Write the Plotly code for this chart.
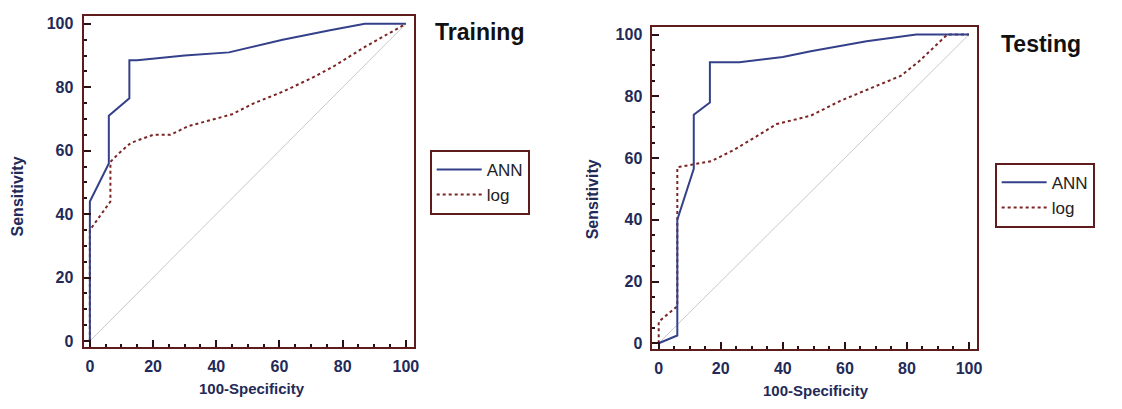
import plotly.graph_objects as go

# ---- data ----
train_ann_x = [0, 0, 6, 6, 12.5, 12.5, 15, 30, 44, 61, 76, 87, 100]
train_ann_y = [0, 44, 56, 71, 76.5, 88.5, 88.5, 90, 91, 95, 98, 100, 100]

train_log_x = [0, 0, 6.5, 6.5, 9, 13, 20, 25.5, 31, 40, 45, 52, 61, 70, 77, 87, 100]
train_log_y = [0, 35, 44, 56.5, 59, 62.5, 65, 65, 67.7, 70, 71.5, 75, 78.6, 82.8, 86.5, 92.7, 100]

test_ann_x = [0, 6, 6, 11.3, 11.3, 16.5, 16.5, 26, 40, 49, 67, 83, 100]
test_ann_y = [0, 2.5, 40, 56.5, 74, 78, 91, 91, 92.7, 94.6, 97.8, 100, 100]

test_log_x = [0, 0, 6, 6, 17, 24, 31, 38, 49, 58.5, 70, 78, 84, 93, 100]
test_log_y = [0, 7, 12, 57, 59, 62.5, 66.7, 71, 73.7, 78.5, 83.3, 86.6, 91.4, 100, 100]

diag = [0, 100]
tick_vals = [0, 20, 40, 60, 80, 100]
panel_titles = ["Training", "Testing"]
series_names = ["ANN", "log"]
axis_x_title = "100-Specificity"
axis_y_title = "Sensitivity"

W, H = 1122, 409
def px(x): return x / W
def py(y): return 1 - y / H

ANN_COLOR = "#34418a"
LOG_COLOR = "#7a2424"
FRAME = "#5e1c1c"
TXT = "#232a58"
FONT = "Arial"

fig = go.Figure()

panels = [
    ("x", "y", train_ann_x, train_ann_y, train_log_x, train_log_y, "legend"),
    ("x2", "y2", test_ann_x, test_ann_y, test_log_x, test_log_y, "legend2"),
]
for xa, ya, ax_, ay_, lx, ly, lg in panels:
    fig.add_trace(go.Scatter(x=diag, y=diag, xaxis=xa, yaxis=ya, mode="lines",
                             line=dict(color="#c9c9c9", width=1), showlegend=False,
                             hoverinfo="skip"))
    fig.add_trace(go.Scatter(x=lx, y=ly, xaxis=xa, yaxis=ya, mode="lines", name=series_names[1],
                             line=dict(color=LOG_COLOR, width=2, dash="dot"), legend=lg,
                             legendrank=2))
    fig.add_trace(go.Scatter(x=ax_, y=ay_, xaxis=xa, yaxis=ya, mode="lines", name=series_names[0],
                             line=dict(color=ANN_COLOR, width=2), legend=lg, legendrank=1))

def axis(domain, standoff):
    return dict(domain=domain, range=[-2, 102.5], tickvals=tick_vals, ticks="inside",
                ticklen=7, tickwidth=2, tickcolor="#2a1010",
                minor=dict(dtick=5, tick0=0, ticks="inside", ticklen=3, tickwidth=2, tickcolor="#2a1010"),
                showline=True, mirror=True, linecolor=FRAME, linewidth=2,
                showgrid=False, zeroline=False, ticklabelstandoff=standoff,
                tickfont=dict(family=FONT, size=16, color=TXT, weight="bold"))

legend_common = dict(xanchor="left", yanchor="top", bordercolor=FRAME, borderwidth=2,
                     bgcolor="white", font=dict(family=FONT, size=17, color="#222"),
                     tracegroupgap=0, itemwidth=45, entrywidth=97)

fig.update_layout(
    width=W, height=H, margin=dict(l=0, r=0, t=0, b=0),
    paper_bgcolor="white", plot_bgcolor="white",
    xaxis=dict(axis([px(84), px(416)], 3), anchor="y"),
    yaxis=dict(axis([py(349), py(15)], 5), anchor="x"),
    xaxis2=dict(axis([px(656), px(982)], 3), anchor="y2"),
    yaxis2=dict(axis([py(351), py(26)], 5), anchor="x2"),
    legend=dict(legend_common, x=px(432), y=py(150)),
    legend2=dict(legend_common, x=px(1000), y=py(163)),
    showlegend=True,
)

annots = [
    dict(text="<b>" + panel_titles[0] + "</b>", x=px(435), y=py(31), xanchor="left",
         font=dict(size=23, color="#111")),
    dict(text="<b>" + panel_titles[1] + "</b>", x=px(1004), y=py(43), xanchor="left",
         font=dict(size=23, color="#111")),
    dict(text="<b>" + axis_y_title + "</b>", x=px(18), y=py(197), textangle=-90, xanchor="center",
         font=dict(size=16, color=TXT)),
    dict(text="<b>" + axis_y_title + "</b>", x=px(596), y=py(200), textangle=-90, xanchor="center",
         font=dict(size=16, color=TXT)),
    dict(text="<b>" + axis_x_title + "</b>", x=px(253), y=py(390), xanchor="center",
         font=dict(size=15, color=TXT)),
    dict(text="<b>" + axis_x_title + "</b>", x=px(820), y=py(392), xanchor="center",
         font=dict(size=15, color=TXT)),
]
for a in annots:
    a["font"]["family"] = FONT
    fig.add_annotation(xref="paper", yref="paper", showarrow=False, yanchor="middle", **a)

fig.write_html("out.html")
